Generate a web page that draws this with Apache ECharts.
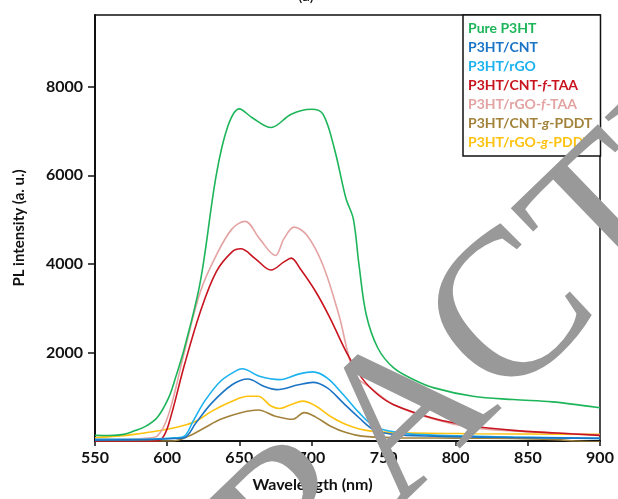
<!DOCTYPE html>
<html>
<head>
<meta charset="utf-8">
<script src="https://cdn.jsdelivr.net/npm/echarts@6/dist/echarts.min.js"></script>
<style>
  html, body { margin: 0; padding: 0; background: #fff; }
  #chart { width: 618px; height: 499px; }
</style>
</head>
<body>
<div id="chart"></div>
<script>
// PL spectra, [wavelength nm, intensity a.u.]
const pureP3HT = [[550,127],[560,125],[570,150],[577,225],[585,330],[593,525],[601,975],[606,1450],[612,2100],[623,3600],[634,6000],[642,7100],[650,7500],[659,7300],[672,7080],[686,7380],[700,7490],[708,7380],[716,6590],[724,5470],[729,5020],[733,3970],[738,2850],[746,2100],[757,1650],[771,1385],[785,1200],[812,1010],[840,936],[867,884],[886,810],[900,750]]
const p3htCNT = [[550,20],[570,25],[590,35],[605,55],[612,75],[620,410],[631,860],[645,1270],[656,1400],[667,1235],[676,1160],[691,1270],[701,1325],[711,1200],[722,860],[733,525],[743,260],[757,150],[785,110],[840,80],[900,60]]
const p3htRGO = [[550,40],[570,40],[590,45],[605,70],[612,110],[618,450],[626,900],[637,1350],[648,1590],[652,1630],[664,1460],[678,1385],[691,1510],[701,1560],[711,1420],[722,1050],[733,640],[743,340],[754,225],[771,150],[840,90],[900,60]]
const cntTAA = [[550,-20],[580,-15],[590,-5],[596,40],[601,375],[612,1720],[623,2920],[634,3820],[645,4270],[651,4340],[661,4120],[672,3860],[681,4045],[686,4130],[692,3900],[703,3370],[713,2770],[724,2020],[735,1420],[746,1050],[757,820],[785,510],[812,340],[840,240],[870,180],[900,127]]
const rgoTAA = [[550,40],[570,40],[585,60],[593,110],[601,600],[612,2020],[623,3370],[634,4190],[645,4790],[654,4960],[664,4570],[675,4190],[681,4570],[688,4830],[697,4640],[708,3970],[719,2850],[730,1500],[741,1200],[757,820],[785,490],[812,300],[840,225],[870,180],[900,135]]
const cntPDDT = [[550,0],[580,0],[604,0],[615,110],[626,300],[637,490],[651,640],[663,700],[675,560],[687,490],[695,640],[703,540],[713,340],[724,190],[735,110],[757,75],[800,65],[840,60],[870,30],[883,0],[900,-20]]
const rgoPDDT = [[550,75],[565,110],[577,150],[593,225],[610,340],[621,465],[631,675],[645,900],[656,1010],[663,1010],[672,790],[678,735],[686,825],[694,900],[703,790],[713,560],[724,375],[738,240],[757,190],[812,165],[900,150]]

const seriesNames = ['Pure P3HT', 'P3HT/CNT', 'P3HT/rGO', 'P3HT/CNT-f-TAA', 'P3HT/rGO-f-TAA', 'P3HT/CNT-g-PDDT', 'P3HT/rGO-g-PDDT']
const seriesData = [pureP3HT, p3htCNT, p3htRGO, cntTAA, rgoTAA, cntPDDT, rgoPDDT]
const colors = ['#1db55a', '#1b74c6', '#1cb2ef', '#c8141e', '#e4a3a3', '#a2823a', '#ffc20e']

const xTicks = { min: 550, max: 900, step: 50 }
const yTicks = { min: 0, max: 9620, step: 2000 }

const font = 'Lato, "Open Sans", sans-serif'

// legend text with italic f / g
const legendLabel = name => name.replace(/-(f|g)-/, '-{i|$1}-')

const chart = echarts.init(document.getElementById('chart'))

chart.setOption({
  animation: false,
  backgroundColor: '#fff',
  color: colors,
  grid: {
    left: 95, right: 18, top: 15, bottom: 58,
    show: true,
    borderColor: '#111',
    borderWidth: 1.5
  },
  legend: {
    left: 463,
    top: 15,
    orient: 'vertical',
    itemWidth: 0,
    itemHeight: 14,
    itemGap: 5,
    padding: [6, 8, 7, 0],
    backgroundColor: '#fff',
    borderColor: '#111',
    borderWidth: 1.5,
    borderRadius: 0,
    icon: 'rect',
    formatter: legendLabel,
    textStyle: {
      fontFamily: font,
      fontWeight: 'bold',
      fontSize: 14,
      rich: { i: { fontStyle: 'italic', fontWeight: 'bold', fontFamily: font, fontSize: 14 } }
    },
    data: seriesNames.map((n, i) => ({
      name: n,
      textStyle: { color: colors[i], rich: { i: { color: colors[i], fontStyle: 'italic', fontWeight: 'bold', fontSize: 14 } } }
    }))
  },
  xAxis: {
    type: 'value',
    min: xTicks.min,
    max: xTicks.max,
    interval: xTicks.step,
    name: 'Wavelength (nm)',
    nameLocation: 'middle',
    nameGap: 36,
    nameTextStyle: { fontFamily: font, fontWeight: 'bold', fontSize: 16, color: '#111', padding: [0, 70, 0, 0] },
    splitLine: { show: false },
    axisLine: { lineStyle: { color: '#111', width: 2 } },
    axisTick: { show: true, length: 5, lineStyle: { color: '#111', width: 1.5 } },
    axisLabel: { fontFamily: font, fontWeight: 'bold', fontSize: 16, color: '#111', margin: 9 }
  },
  yAxis: {
    type: 'value',
    min: yTicks.min,
    max: yTicks.max,
    interval: yTicks.step,
    name: 'PL intensity (a. u.)',
    nameLocation: 'middle',
    nameGap: 68,
    nameTextStyle: { fontFamily: font, fontWeight: 'bold', fontSize: 15, color: '#111' },
    splitLine: { show: false },
    axisLine: { show: true, lineStyle: { color: '#111', width: 2 } },
    axisTick: { show: true, length: 7, lineStyle: { color: '#111', width: 1.5 } },
    axisLabel: {
      fontFamily: font, fontWeight: 'bold', fontSize: 16, color: '#111', margin: 12,
      showMinLabel: false,
      showMaxLabel: false,
      formatter: v => String(v)
    }
  },
  series: seriesData.map((d, i) => ({
    name: seriesNames[i],
    type: 'line',
    data: d,
    smooth: 0.35,
    showSymbol: false,
    clip: true,
    lineStyle: { width: 1.6, color: colors[i] },
    z: 10 - i
  })),
  graphic: [
    {
      type: 'text',
      left: 298,
      top: -12,
      style: { text: '(a)', fontFamily: font, fontSize: 16, fill: '#111' }
    },
    {
      type: 'text',
      x: 414,
      y: 416,
      rotation: 44 * Math.PI / 180,
      z: 100,
      style: {
        text: 'RETRACTED',
        fontFamily: '"Liberation Serif", "DejaVu Serif", serif',
        fontSize: 210,
        fill: '#999',
        align: 'center',
        verticalAlign: 'middle'
      }
    }
  ]
})
</script>
</body>
</html>
